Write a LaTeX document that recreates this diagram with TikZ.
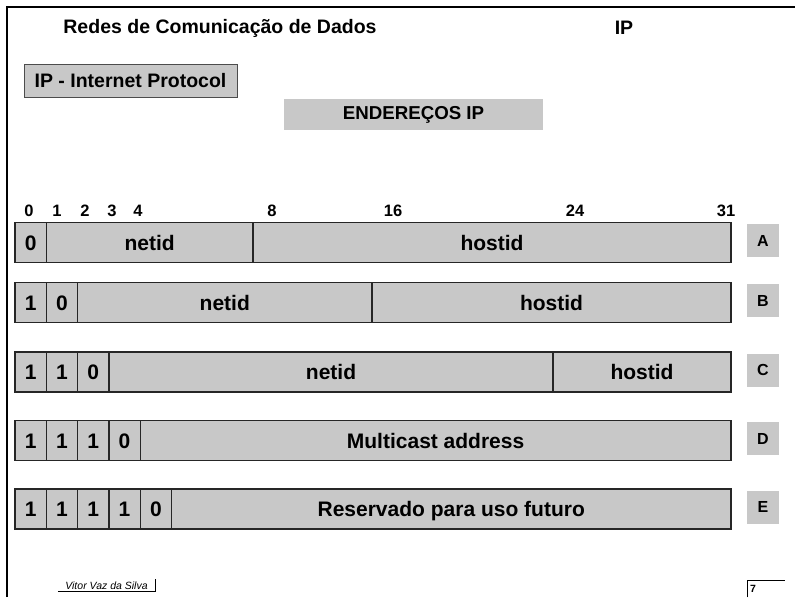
\documentclass[tikz,border=0pt]{standalone}
\usepackage{fontspec}
\setmainfont{Liberation Sans}
\usepackage{xcolor}
\definecolor{slidegray}{RGB}{200,200,200}

\tikzset{
  cell/.style={draw=black!85, fill=slidegray, line width=1.3pt, minimum height=40,
    inner sep=0pt, text height=15, text depth=0pt, font=\fontsize{21}{25}\selectfont\bfseries},
  classtag/.style={fill=slidegray, minimum width=32, minimum height=33, inner sep=0pt,
    text height=11, text depth=0pt, font=\fontsize{16}{19}\selectfont\bfseries},
  bitnum/.style={font=\fontsize{16.5}{19}\selectfont\bfseries, inner sep=0pt,
    text height=12, text depth=0pt},
  heading/.style={font=\fontsize{19.5}{23}\selectfont\bfseries, inner sep=0pt}
}

\begin{document}
\begin{tikzpicture}[x=1pt,y=-1pt]
\useasboundingbox (0,0) rectangle (795,597);
\draw[line width=2.5pt] (7,597) -- (7,7) -- (795,7);

\node[heading] (title) at (220,28) {Redes de Comunicação de Dados};
\node[heading] (topic) at (624,28) {IP};
\node[heading, draw=black!70, fill=slidegray, line width=0.8pt,
  minimum width=213, minimum height=33] (proto) at (130.5,80.5) {IP - Internet Protocol};
\node[heading, fill=slidegray, minimum width=259, minimum height=31,
  font=\fontsize{18.7}{22}\selectfont\bfseries] (enderecos) at (413.5,114.5) {ENDEREÇOS IP};

% bit positions
\foreach \b/\x in {0/29,1/57,2/85,3/112,4/138,8/272,16/393,24/575,31/726}
    \node[bitnum] (n\b) at (\x,210) {\b};

% leading class bits and class letters
\foreach \cls/\cy/\nb in {A/242.5/1,B/302.5/2,C/372/3,D/440.5/4,E/509/5}{
    \foreach \i in {1,...,\nb}{
        \pgfmathsetmacro\cx{15+31.3*(\i-0.5)}
        \pgfmathsetmacro\bitval{int(\i<\nb)}
        \node[cell, minimum width=31.3] (\cls\i) at (\cx,\cy) {\bitval};
    }
    \node[classtag] (tag\cls) at (763,\cy-2) {\cls};
}

% address fields
\node[cell, minimum width=206.7] (netA) at (149.65,242.5) {netid};
\node[cell, minimum width=478] (hostA) at (492,242.5) {hostid};
\node[cell, minimum width=294.4] (netB) at (224.8,302.5) {netid};
\node[cell, minimum width=359] (hostB) at (551.5,302.5) {hostid};
\node[cell, minimum width=444] (netC) at (331,372) {netid};
\node[cell, minimum width=178] (hostC) at (642,372) {hostid};
\node[cell, minimum width=590.8] (multi) at (435.6,440.5) {Multicast address};
\node[cell, minimum width=559.5] (reserv) at (451.25,509) {Reservado para uso futuro};

% footer
\node[font=\fontsize{10.5}{12}\selectfont\itshape, minimum width=97, minimum height=12,
  inner sep=0pt] (author) at (106.5,585.5) {Vitor Vaz da Silva};
\draw[line width=0.8pt] (author.south west) -- (author.south east) -- (author.north east);
\node[font=\fontsize{10.5}{12}\selectfont\bfseries, anchor=north west, text width=32,
  align=left, inner xsep=3, minimum height=17] (page) at (747,580) {7};
\draw[line width=0.8pt] (page.south west) -- (page.north west) -- (page.north east);
\end{tikzpicture}
\end{document}
